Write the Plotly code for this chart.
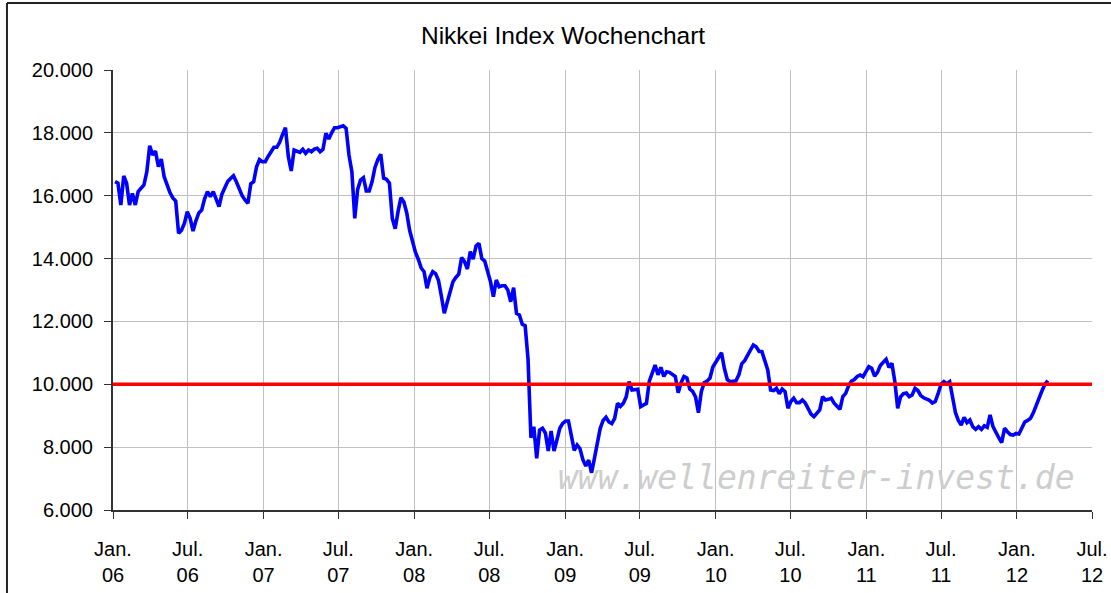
import pandas as pd
import plotly.graph_objects as go

# ---- data (weekly closes) ----
start_week = "2006-01-06"
nikkei_weekly = [
    16446, 16400, 15705, 16627, 16394, 15705, 16076, 15705, 16130, 16250,
    16340, 16764, 17591, 17300, 17420, 16923, 17168, 16605, 16350, 16100,
    15930, 15832, 14804, 14900, 15121, 15490, 15280, 14877, 15200, 15450,
    15545, 15900, 16130, 15968, 16130, 15863, 15651, 16050, 16250, 16450,
    16550, 16637, 16446, 16200, 16000, 15863, 15757, 16380, 16446, 16923,
    17150, 17082, 17082, 17250, 17400, 17540, 17540, 17700, 17950, 18164,
    17241, 16786, 17454, 17420, 17380, 17477, 17350, 17454, 17400, 17480,
    17508, 17400, 17477, 17986, 17804, 18000, 18164, 18164, 18200, 18228,
    18143, 17295, 16764, 15280, 16200, 16500, 16573, 16150, 16150, 16450,
    16900, 17150, 17317, 16554, 16520, 16400, 15280, 14950, 15500, 15937,
    15800, 15450, 14900, 14550, 14200, 13980, 13700, 13582, 13054, 13400,
    13582, 13520, 13300, 12800, 12258, 12600, 12945, 13264, 13400, 13500,
    14030, 13900, 13667, 14220, 13986, 14400, 14486, 14000, 13922, 13582,
    13264, 12787, 13318, 13106, 13137, 13137, 13000, 12627, 13075, 12258,
    12205, 11909, 11864, 10800, 8300, 8650, 7644, 8545, 8600, 8450,
    7877, 8513, 7877, 8227, 8600, 8758, 8832, 8832, 8281, 7900,
    8068, 7950, 7600, 7400, 7590, 7186, 7650, 8150, 8600, 8850,
    8950, 8800, 8750, 8917, 9394, 9300, 9400, 9600, 10083, 9818,
    9830, 9840, 9289, 9350, 9394, 10100, 10350, 10613, 10300, 10539,
    10250, 10400, 10380, 10330, 10250, 9732, 10050, 10250, 10200, 9850,
    9770, 9600, 9098, 9765, 10050, 10100, 10200, 10550, 10719, 10850,
    11004, 10500, 10150, 10083, 10100, 10110, 10300, 10650, 10750, 10900,
    11100, 11250, 11195, 11050, 11036, 10700, 10454, 9818, 9800, 9871,
    9700, 9850, 9765, 9236, 9450, 9554, 9416, 9416, 9500, 9400,
    9200, 9050, 8970, 9080, 9182, 9607, 9500, 9520, 9554, 9400,
    9300, 9204, 9607, 9713, 9950, 10100, 10150, 10250, 10295, 10241,
    10400, 10560, 10508, 10263, 10380, 10600, 10700, 10793, 10539, 10666,
    10100, 9236, 9600, 9700, 9720, 9607, 9660, 9871, 9800, 9640,
    9570, 9530, 9490, 9400, 9450, 9700, 10000, 10083, 10009, 10083,
    9600, 9100, 8850, 8704, 8949, 8779, 8863, 8650, 8566, 8650,
    8566, 8680, 8630, 9022, 8651, 8450, 8300, 8141, 8600, 8492,
    8400, 8386, 8439, 8418, 8600, 8800, 8850, 8917, 9100, 9350,
    9554, 9800, 10000, 10114,
]
reference_level = 10000

x_tick_dates = ["2006-01-01", "2006-07-01", "2007-01-01", "2007-07-01",
                "2008-01-01", "2008-07-01", "2009-01-01", "2009-07-01",
                "2010-01-01", "2010-07-01", "2011-01-01", "2011-07-01",
                "2012-01-01", "2012-07-01"]
x_tick_labels = ["Jan.<br>06", "Jul.<br>06", "Jan.<br>07", "Jul.<br>07",
                 "Jan.<br>08", "Jul.<br>08", "Jan.<br>09", "Jul.<br>09",
                 "Jan.<br>10", "Jul.<br>10", "Jan.<br>11", "Jul.<br>11",
                 "Jan.<br>12", "Jul.<br>12"]
y_tick_values = [6000, 8000, 10000, 12000, 14000, 16000, 18000, 20000]
y_tick_labels = ["6.000", "8.000", "10.000", "12.000", "14.000", "16.000", "18.000", "20.000"]

title_text = "Nikkei Index Wochenchart"
watermark_text = "www.wellenreiter-invest.de"

dates = pd.date_range(start_week, periods=len(nikkei_weekly), freq="7D")

FONT = "Liberation Sans, Arial, sans-serif"
W, H = 1111, 593

fig = go.Figure()
fig.add_trace(go.Scatter(
    x=dates, y=nikkei_weekly, mode="lines",
    line=dict(color="#0000ff", width=3.6),
    showlegend=False, hoverinfo="skip",
))

# red 10.000 line across the plot
fig.add_shape(type="line", xref="paper", yref="y", x0=0, x1=1,
              y0=reference_level, y1=reference_level,
              line=dict(color="#ff0000", width=3.5), layer="above")

# outer chart border (left + top visible)
fig.add_shape(type="line", xref="paper", yref="paper",
              x0=-0.1083, x1=1.05, y0=1.1523, y1=1.1523,
              line=dict(color="#222222", width=2))
fig.add_shape(type="line", xref="paper", yref="paper",
              x0=-0.1083, x1=-0.1083, y0=1.1523, y1=-0.25,
              line=dict(color="#222222", width=2))

fig.add_annotation(
    text=watermark_text, xref="paper", yref="paper",
    x=0.7185, y=0.074, xanchor="center", yanchor="middle",
    showarrow=False,
    font=dict(family="DejaVu Sans Mono, monospace", size=33,
              color="#cdcdcd", style="italic"),
)

fig.update_layout(
    width=W, height=H,
    margin=dict(l=113, r=19, t=70, b=83, autoexpand=False),
    paper_bgcolor="white", plot_bgcolor="white",
    title=dict(text=title_text, x=0.5068, xanchor="center",
               y=1 - 35 / H, yanchor="middle", yref="container",
               font=dict(family=FONT, size=24.5, color="black")),
    font=dict(family=FONT, size=20, color="black"),
    xaxis=dict(
        type="date", range=["2006-01-01", "2012-07-01"],
        tickmode="array", tickvals=x_tick_dates, ticktext=x_tick_labels,
        showgrid=True, gridcolor="#c0c0c0", gridwidth=1,
        showline=True, linecolor="#333333", linewidth=2,
        ticks="outside", ticklen=7, tickcolor="#333333", tickwidth=1,
        tickfont=dict(family=FONT, size=20, color="black"),
        ticklabelstandoff=13,
        zeroline=False, automargin=False,
    ),
    yaxis=dict(
        range=[6000, 20000],
        tickmode="array", tickvals=y_tick_values, ticktext=y_tick_labels,
        showgrid=True, gridcolor="#c0c0c0", gridwidth=1,
        showline=True, linecolor="#333333", linewidth=2,
        ticks="outside", ticklen=7, tickcolor="#333333", tickwidth=1,
        tickfont=dict(family=FONT, size=20, color="black"),
        ticklabelstandoff=7,
        zeroline=False, automargin=False,
    ),
)

fig.write_html(
    "out.html",
    config={"displayModeBar": False, "staticPlot": True},
    post_script="document.body.style.margin='0';document.body.style.overflow='hidden';",
)
